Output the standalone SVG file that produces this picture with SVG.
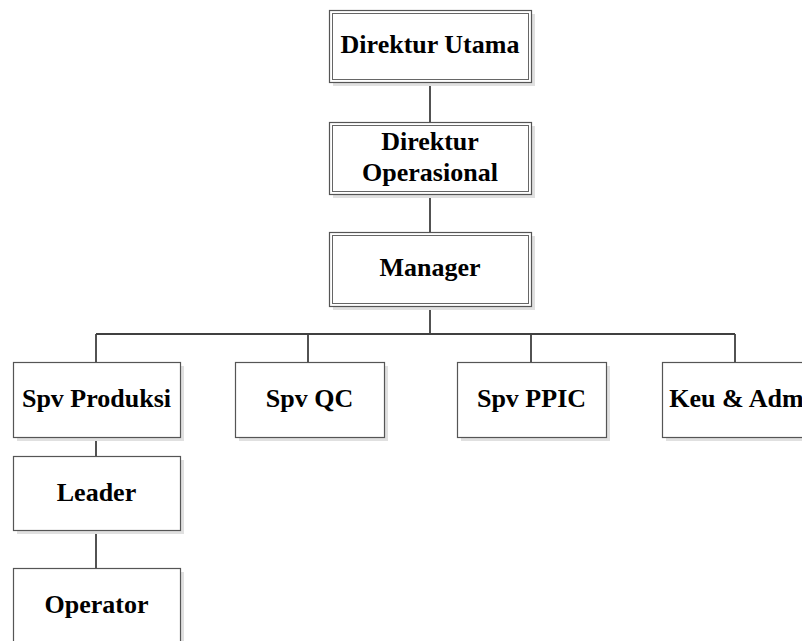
<svg xmlns="http://www.w3.org/2000/svg" width="802" height="641" viewBox="0 0 802 641">
<style>
.sh{fill:#e0e0e0;stroke:none}
.bx{fill:#fff;stroke:#555;stroke-width:1.2}
.in{fill:none;stroke:#666;stroke-width:1}
.t{font-family:"Liberation Serif","Times New Roman",serif;font-weight:bold;font-size:26px;fill:#000;text-anchor:middle}
.c{fill:none;stroke:#404040;stroke-width:1.8}
</style>
<rect width="802" height="641" fill="#fff"/>
<g id="connectors">
<path class="c" d="M430 82V122M430 194V232M430 306V334M96 334H735M96 334V362M308 334V362M531 334V362M735 334V362M96 437V456M96 530V568"/>
</g>
<g id="direktur-utama">
<rect class="sh" x="333" y="14" width="202" height="72"/>
<rect class="bx" x="329.5" y="10.5" width="202" height="72"/>
<rect class="in" x="332.5" y="13.5" width="196" height="66"/>
<text class="t" x="430" y="53">Direktur Utama</text>
</g>
<g id="direktur-operasional">
<rect class="sh" x="333" y="126" width="202" height="72"/>
<rect class="bx" x="329.5" y="122.5" width="202" height="72"/>
<rect class="in" x="332.5" y="125.5" width="196" height="66"/>
<text class="t" x="430" y="150">Direktur</text>
<text class="t" x="430" y="181">Operasional</text>
</g>
<g id="manager">
<rect class="sh" x="333" y="236" width="202" height="74"/>
<rect class="bx" x="329.5" y="232.5" width="202" height="74"/>
<rect class="in" x="332.5" y="235.5" width="196" height="68"/>
<text class="t" x="430" y="276">Manager</text>
</g>
<g id="spv-produksi">
<rect class="sh" x="17" y="366" width="167" height="75"/>
<rect class="bx" x="13.5" y="362.5" width="167" height="75"/>
<text class="t" x="96.5" y="407">Spv Produksi</text>
</g>
<g id="spv-qc">
<rect class="sh" x="239" y="366" width="149" height="75"/>
<rect class="bx" x="235.5" y="362.5" width="149" height="75"/>
<text class="t" x="309.5" y="407">Spv QC</text>
</g>
<g id="spv-ppic">
<rect class="sh" x="461" y="366" width="149" height="75"/>
<rect class="bx" x="457.5" y="362.5" width="149" height="75"/>
<text class="t" x="531.5" y="407">Spv PPIC</text>
</g>
<g id="keu-adm">
<rect class="sh" x="666" y="366" width="149" height="75"/>
<rect class="bx" x="662.5" y="362.5" width="149" height="75"/>
<text class="t" x="736.5" y="407">Keu &amp; Adm</text>
</g>
<g id="leader">
<rect class="sh" x="17" y="460" width="167" height="74"/>
<rect class="bx" x="13.5" y="456.5" width="167" height="74"/>
<text class="t" x="96.5" y="501">Leader</text>
</g>
<g id="operator">
<rect class="sh" x="17" y="572" width="167" height="80"/>
<rect class="bx" x="13.5" y="568.5" width="167" height="80"/>
<text class="t" x="96.5" y="613">Operator</text>
</g>
</svg>
